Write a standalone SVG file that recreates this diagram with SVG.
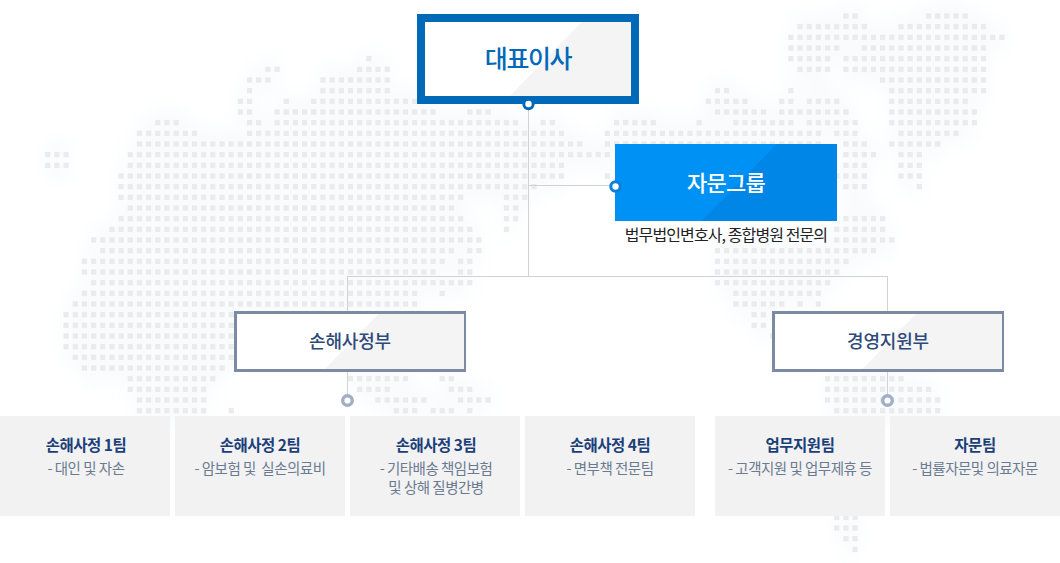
<svg xmlns="http://www.w3.org/2000/svg" width="1060" height="563" viewBox="0 0 1060 563">
<style>
text{font-family:"Noto Sans CJK KR","Noto Sans",sans-serif;text-anchor:middle}
.map{fill:none;transform:translate(45.1px,16px) scale(9.175,10.667)}
.halo{stroke:#f9fbfd;stroke-width:3}
.dots{stroke:#e9ebee;stroke-width:.5;stroke-dasharray:.567 .433}
.ln{fill:none;stroke:#d2d2d2;stroke-width:1}
.dept{fill:#fff;stroke:#7a8ba3;stroke-width:3}
.dg{fill:#f4f4f5}
.dt{font-size:18px;font-weight:500;fill:#2e4a78;letter-spacing:-.2px}
.team{fill:#f2f2f3}
.tt{font-size:15.500px;font-weight:700;fill:#1c3f78;letter-spacing:-.5px}
.ts{font-size:14.500px;fill:#6a7a90;letter-spacing:-.5px}
.pt{fill:#fff;stroke:#a2aec4;stroke-width:3.4}
</style>
<defs>
<filter id="b1" x="-10%" y="-10%" width="120%" height="120%"><feGaussianBlur stdDeviation="9"/></filter>
<filter id="b2" x="-2%" y="-2%" width="104%" height="104%"><feGaussianBlur stdDeviation=".45"/></filter>
<path id="world" d="M87 0H88.6M96 0H100.6
M82 1H89.6M93 1H102.6
M81 2H104.6
M81 3H86.6M89 3H102.6
M35 4H35.6M81 4H85.6M87 4H102.6
M24 5H25.6M34 5H37.6M82 5H85.6M87 5H102.6
M22 6H24.6M30 6H37.6M91 6H102.6
M22 7H22.6M30 7H37.6M73 7H74.6M81 7H81.6M92 7H102.6
M21 8H22.6M26 8H26.6M29 8H41.6M72 8H76.6M80 8H81.6M83 8H86.6M92 8H100.6
M21 9H22.6M25 9H42.6M46 9H48.6M73 9H78.6M80 9H87.6M92 9H101.6
M12 10H14.6M22 10H23.6M25 10H51.6M54 10H55.6M62 10H66.6M71 10H71.6M75 10H81.6M83 10H88.6M92 10H101.6
M10 11H16.6M22 11H56.6M61 11H84.6M86 11H88.6M93 11H99.6
M10 12H58.6M61 12H84.6M87 12H89.6M92 12H97.6
M0 13H2.6M9 13H61.6M87 13H90.6M93 13H95.6
M0 14H2.6M9 14H56.6M87 14H89.6M93 14H95.6
M8 15H56.6M61 15H61.6M86 15H89.6M93 15H95.6
M8 16H53.6M87 16H89.6M95 16H95.6
M8 17H45.6M50 17H52.6
M9 18H44.6M50 18H51.6
M8 19H45.6M50 19H51.6M87 19H91.6
M7 20H46.6M50 20H50.6M86 20H91.6
M5 21H47.6M86 21H92.6
M6 22H44.6M46 22H47.6M73 22H90.6
M4 23H43.6M45 23H46.6M73 23H87.6
M4 24H42.6M45 24H46.6M73 24H86.6
M5 25H46.6M73 25H85.6
M4 26H40.6M43 26H43.6M75 26H84.6
M3 27H40.6M75 27H80.6M82 27H82.6M84 27H84.6
M2 28H21.6M77 28H78.6
M2 29H21.6M77 29H78.6
M2 30H21.6M79 30H79.6
M2 31H21.6
M3 32H21.6
M4 33H19.6
M9 34H18.6M33 34H39.6M43 34H44.6M85 34H93.6
M9 35H17.6M34 35H37.6M44 35H46.6M85 35H96.6
M10 36H17.6M36 36H41.6M45 36H48.6M85 36H97.6
M10 37H17.6M20 37H20.6M38 37H40.6M42 37H44.6M46 37H46.6M86 37H97.6
M86 47H88.6M86 48H88.6M87 49H88.6M88 50H88.6"/>
</defs>
<rect width="1060" height="563" fill="#fff"/>
<g id="map">
<g filter="url(#b1)"><use href="#world" class="map halo"/></g>
<g filter="url(#b2)"><use href="#world" class="map dots"/></g>
</g>
<g id="connectors">
<path class="ln" d="M528.5 104V276.5M528.5 185.5H615M347.5 276.5H887.5M347.5 276V400M887.5 276V400"/>
</g>
<g id="ceo">
<rect x="421" y="18" width="214" height="82" fill="#fff" stroke="#0069b8" stroke-width="8"/>
<path class="dg" d="M581.7 22H631V96H510Z"/>
<text x="528" y="68" font-size="25" font-weight="500" fill="#0069b8" letter-spacing="-1.4">대표이사</text>
<circle cx="528.5" cy="104" r="4.7" fill="#fff" stroke="#0069b8" stroke-width="3"/>
</g>
<g id="advisory">
<rect x="615" y="144" width="222" height="77" fill="#0091f5"/>
<path d="M776.7 144H837V221H701.7Z" fill="#0086e6"/>
<text x="726" y="191" font-size="22" font-weight="500" fill="#fff" letter-spacing="-.8">자문그룹</text>
<text x="726" y="241" font-size="16" fill="#222" letter-spacing="-.9">법무법인변호사, 종합병원 전문의</text>
<circle cx="615.5" cy="186.5" r="4.7" fill="#fff" stroke="#0b7fdc" stroke-width="3"/>
</g>
<g id="dept-claims">
<rect class="dept" x="235.500" y="312.500" width="229" height="58"/>
<path class="dg" d="M378.300 314H464V369H325Z"/>
<text class="dt" x="350" y="348">손해사정부</text>
<circle class="pt" cx="347.500" cy="400.500" r="4.800"/>
</g>
<g id="dept-admin">
<rect class="dept" x="773.500" y="312.500" width="229" height="58"/>
<path class="dg" d="M916 314H1002V369H862.600Z"/>
<text class="dt" x="888" y="348">경영지원부</text>
<circle class="pt" cx="887.500" cy="400.500" r="4.800"/>
</g>
<g id="team1"><rect class="team" x="0" y="416" width="170" height="100"/><text class="tt" x="86" y="451">손해사정 1팀</text><text class="ts" x="86" y="474">- 대인 및 자손</text></g>
<g id="team2"><rect class="team" x="175" y="416" width="170" height="100"/><text class="tt" x="260" y="451">손해사정 2팀</text><text class="ts" x="260" y="474">- 암보험 및 &#160;실손의료비</text></g>
<g id="team3"><rect class="team" x="350" y="416" width="170" height="100"/><text class="tt" x="436" y="451">손해사정 3팀</text><text class="ts" x="436" y="474">- 기타배송 책임보험</text><text class="ts" x="436" y="493">및 상해 질병간병</text></g>
<g id="team4"><rect class="team" x="525" y="416" width="170" height="100"/><text class="tt" x="610" y="451">손해사정 4팀</text><text class="ts" x="610" y="474">- 면부책 전문팀</text></g>
<g id="team5"><rect class="team" x="715" y="416" width="170" height="100"/><text class="tt" x="800" y="451">업무지원팀</text><text class="ts" x="800" y="474">- 고객지원 및 업무제휴 등</text></g>
<g id="team6"><rect class="team" x="890" y="416" width="170" height="100"/><text class="tt" x="975" y="451">자문팀</text><text class="ts" x="975" y="474">- 법률자문및 의료자문</text></g>
</svg>
